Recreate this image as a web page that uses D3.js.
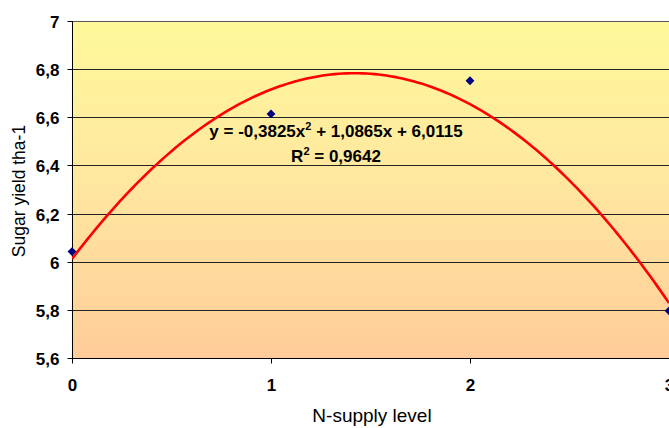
<!DOCTYPE html>
<html>
<head>
<meta charset="utf-8">
<script src="https://cdn.jsdelivr.net/npm/d3@7"></script>
<style>
  html, body { margin: 0; padding: 0; background: #ffffff; overflow: hidden; }
  svg { display: block; }
  text { font-family: Arial, "Liberation Sans", sans-serif; }
</style>
</head>
<body>
<svg id="chart" width="669" height="428"></svg>
<script>
// ---- data ----
const nLevels = [0, 1, 2, 3];
const sugarYield = [6.042, 6.614, 6.752, 5.796];
const yTicks = [5.6, 5.8, 6.0, 6.2, 6.4, 6.6, 6.8, 7.0];
const xTicks = [0, 1, 2, 3];
// polynomial trendline coefficients (c2, c1, c0) as displayed on chart
const trendCoefficients = [-0.3825, 1.0865, 6.0115];
const equationLabel = "y = -0,3825x";
const equationRest = " + 1,0865x + 6,0115";
const rSquaredValue = "0,9642";
const xTitle = "N-supply level";
const yTitle = "Sugar yield tha-1";

// ---- layout ----
const svg = d3.select("#chart");
const pLeft = 72, pRight = 669, pTop = 21, pBottom = 358;
const FONT = "Arial, 'Liberation Sans', sans-serif";

const x = d3.scaleLinear().domain([0, 3]).range([pLeft, pRight]);
const y = d3.scaleLinear().domain([5.6, 7]).range([pBottom, pTop]);

const fmt = v => (Math.round(v * 10) / 10).toString().replace(".", ",");

// gradient background
const defs = svg.append("defs");
const grad = defs.append("linearGradient").attr("id", "bg")
  .attr("x1", 0).attr("y1", 0).attr("x2", 0).attr("y2", 1);
grad.append("stop").attr("offset", "0%").attr("stop-color", "#FFF99A");
grad.append("stop").attr("offset", "50%").attr("stop-color", "#FFE6A0");
grad.append("stop").attr("offset", "100%").attr("stop-color", "#FFCC99");
defs.append("clipPath").attr("id", "plotclip").append("rect")
  .attr("x", pLeft).attr("y", pTop - 5).attr("width", pRight - pLeft + 10).attr("height", pBottom - pTop + 10);

svg.append("rect").attr("x", pLeft).attr("y", pTop)
  .attr("width", pRight - pLeft + 10).attr("height", pBottom - pTop)
  .attr("fill", "url(#bg)");

// gridlines
svg.append("g").selectAll("line").data(yTicks.filter(t => t > 5.6)).join("line")
  .attr("x1", pLeft).attr("x2", pRight + 10)
  .attr("y1", d => Math.round(y(d)) + 0.5).attr("y2", d => Math.round(y(d)) + 0.5)
  .attr("stroke", d => d === 7 ? "#555" : "#222").attr("stroke-width", 1);

// y axis
const yAxis = d3.axisLeft(y).tickValues(yTicks).tickSize(5).tickPadding(8).tickFormat(fmt);
const gy = svg.append("g").attr("transform", `translate(${pLeft + 0.5},0)`).call(yAxis);
gy.select(".domain").attr("d", `M-0,${pTop}V${pBottom}`).attr("stroke", "#000");
gy.selectAll(".tick line").attr("stroke", "#000");
gy.selectAll(".tick").attr("transform", d => `translate(0,${Math.round(y(d)) + 0.5})`);
gy.selectAll("text").attr("font-size", 17).attr("font-weight", "bold").attr("fill", "#000")
  .attr("font-family", FONT).attr("dy", "0.36em");

// x axis
const xAxis = d3.axisBottom(x).tickValues(xTicks).tickSize(5).tickPadding(9).tickFormat(d => d);
const gx = svg.append("g").attr("transform", `translate(0,${Math.round(pBottom) + 0.5})`).call(xAxis);
gx.select(".domain").attr("d", `M${pLeft},0H${pRight + 10}`).attr("stroke", "#000");
gx.selectAll(".tick line").attr("stroke", "#000");
gx.selectAll("text").attr("font-size", 17).attr("font-weight", "bold").attr("fill", "#000")
  .attr("font-family", FONT).attr("dy", "0.71em").attr("y", 20);

// trendline
const poly = t => trendCoefficients[0] * t * t + trendCoefficients[1] * t + trendCoefficients[2];
const samples = d3.range(0, 3.0001, 0.02);
svg.append("path").datum(samples)
  .attr("d", d3.line().x(d => x(d)).y(d => y(poly(d))).curve(d3.curveLinear))
  .attr("fill", "none").attr("stroke", "#FF0000").attr("stroke-width", 2.6)
  .attr("clip-path", "url(#plotclip)");

// markers
svg.append("g").selectAll("path").data(nLevels.map((n, i) => [n, sugarYield[i]])).join("path")
  .attr("d", d3.symbol(d3.symbolDiamond2, 50))
  .attr("transform", d => `translate(${x(d[0])},${y(d[1])})`)
  .attr("fill", "#000080");

// equation label
const eq = svg.append("text").attr("x", 336).attr("y", 137)
  .attr("text-anchor", "middle").attr("font-size", 17).attr("font-weight", "bold").attr("fill", "#000");
eq.append("tspan").text(equationLabel);
eq.append("tspan").text("2").attr("font-size", 11).attr("dy", -7);
eq.append("tspan").text(equationRest).attr("dy", 7);

const r2 = svg.append("text").attr("x", 336).attr("y", 162)
  .attr("text-anchor", "middle").attr("font-size", 17).attr("font-weight", "bold").attr("fill", "#000");
r2.append("tspan").text("R");
r2.append("tspan").text("2").attr("font-size", 11).attr("dy", -7);
r2.append("tspan").text(" = " + rSquaredValue).attr("dy", 7);

// axis titles
svg.append("text").attr("x", 372).attr("y", 422).attr("text-anchor", "middle")
  .attr("font-size", 19).attr("fill", "#000").text(xTitle);
svg.append("text").attr("transform", "translate(25,191) rotate(-90)")
  .attr("text-anchor", "middle").attr("font-size", 17.5).attr("fill", "#000").text(yTitle);
</script>
</body>
</html>
